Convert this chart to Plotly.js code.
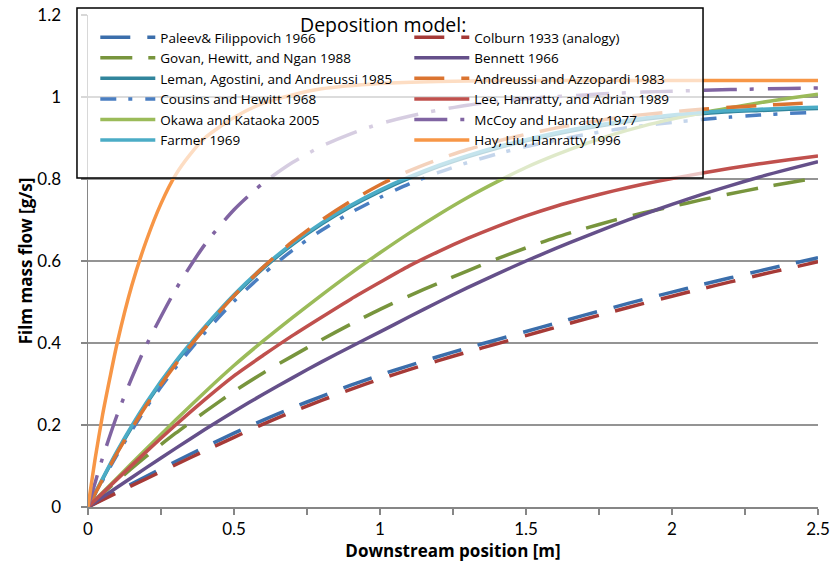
<!DOCTYPE html>
<html>
<head>
<meta charset="utf-8">
<script src="https://cdn.plot.ly/plotly-3.0.1.min.js"></script>
<style>html,body{margin:0;padding:0;background:#fff;}#chart{width:835px;height:569px;}</style>
</head>
<body>
<div id="chart"></div>
<script>
// ---- Data ----
const xStep = [0,0.1,0.2,0.3,0.4,0.5,0.6,0.7,0.8,0.9,1.0,1.1,1.2,1.3,1.4,1.5,1.6,1.7,1.8,1.9,2.0,2.1,2.2,2.3,2.4,2.5];

const yPaleev    = [0,0.038,0.075,0.111,0.146,0.18,0.212,0.242,0.27,0.297,0.322,0.345,0.367,0.388,0.408,0.428,0.448,0.468,0.487,0.506,0.524,0.542,0.559,0.576,0.592,0.608];
const yColburn   = [0,0.035,0.069,0.103,0.137,0.17,0.202,0.232,0.26,0.287,0.312,0.335,0.357,0.378,0.398,0.418,0.438,0.458,0.477,0.496,0.514,0.532,0.549,0.566,0.582,0.598];
const yGovan     = [0,0.064,0.124,0.18,0.232,0.282,0.327,0.368,0.408,0.446,0.482,0.515,0.546,0.576,0.605,0.632,0.657,0.679,0.699,0.717,0.733,0.749,0.764,0.778,0.791,0.803];
const yBennett   = [0,0.048,0.096,0.143,0.189,0.233,0.275,0.315,0.354,0.391,0.427,0.464,0.5,0.535,0.568,0.6,0.63,0.659,0.687,0.713,0.738,0.762,0.784,0.805,0.824,0.842];
const yLeman     = [0,0.134,0.252,0.352,0.437,0.515,0.582,0.64,0.69,0.733,0.77,0.802,0.83,0.854,0.875,0.893,0.909,0.923,0.935,0.945,0.953,0.959,0.964,0.967,0.97,0.972];
const yAndreussi = [0,0.132,0.248,0.348,0.436,0.515,0.585,0.647,0.70,0.746,0.786,0.82,0.848,0.872,0.892,0.909,0.924,0.937,0.948,0.957,0.964,0.97,0.975,0.979,0.983,0.986];
const yCousins   = [0,0.128,0.243,0.34,0.425,0.502,0.568,0.626,0.675,0.718,0.755,0.788,0.816,0.84,0.861,0.879,0.894,0.908,0.92,0.93,0.938,0.945,0.951,0.956,0.96,0.963];
const yLee       = [0,0.068,0.135,0.2,0.262,0.32,0.37,0.418,0.463,0.507,0.548,0.588,0.623,0.655,0.684,0.71,0.733,0.753,0.771,0.787,0.801,0.814,0.826,0.837,0.847,0.856];
const yOkawa     = [0,0.071,0.142,0.212,0.28,0.345,0.405,0.462,0.517,0.57,0.62,0.668,0.713,0.755,0.793,0.828,0.858,0.885,0.909,0.929,0.946,0.961,0.974,0.986,0.997,1.007];
const yFarmer    = [0,0.137,0.255,0.355,0.44,0.518,0.585,0.643,0.693,0.736,0.773,0.805,0.833,0.857,0.878,0.896,0.912,0.926,0.938,0.948,0.956,0.962,0.967,0.97,0.973,0.975];

const xMcCoy = [0,0.05,0.1,0.15,0.2,0.3,0.4,0.5,0.6,0.7,0.8,0.9,1.0,1.1,1.2,1.3,1.4,1.5,1.6,1.7,1.8,1.9,2.0,2.2,2.4,2.5];
const yMcCoy = [0,0.12,0.225,0.315,0.395,0.53,0.64,0.725,0.79,0.84,0.88,0.91,0.935,0.953,0.968,0.98,0.989,0.996,1.001,1.005,1.009,1.012,1.014,1.018,1.021,1.022];
const xHay   = [0,0.025,0.05,0.075,0.1,0.15,0.2,0.25,0.3,0.35,0.4,0.5,0.6,0.7,0.8,1.0,1.2,1.5,2.0,2.5];
const yHay   = [0,0.12,0.225,0.315,0.40,0.54,0.65,0.74,0.81,0.86,0.90,0.95,0.985,1.005,1.02,1.033,1.038,1.04,1.04,1.04];

const names = {
  paleev: "Paleev& Filippovich 1966",
  colburn: "Colburn 1933 (analogy)",
  govan: "Govan, Hewitt, and Ngan 1988",
  bennett: "Bennett 1966",
  leman: "Leman, Agostini, and Andreussi 1985",
  andreussi: "Andreussi and Azzopardi 1983",
  cousins: "Cousins and Hewitt 1968",
  lee: "Lee, Hanratty, and Adrian 1989",
  okawa: "Okawa and Kataoka 2005",
  mccoy: "McCoy and Hanratty 1977",
  farmer: "Farmer 1969",
  hay: "Hay, Liu, Hanratty 1996"
};
const xTitle = "Downstream position [m]";
const yTitle = "Film mass flow [g/s]";
const legendTitle = "Deposition model:";

// ---- Styles ----
const LW = 3.5;
const longDash = "30px,17px";
const mk = (x, y, name, color, dash, rank) => ({
  type: "scatter", mode: "lines", x: x, y: y, name: name, legendrank: rank,
  line: {color: color, width: LW, dash: dash, shape: "spline", smoothing: 0.7},
  hoverinfo: "skip"
});

const traces = [
  mk(xStep, yPaleev, names.paleev, "#3B6EAB", longDash, 1),
  mk(xStep, yGovan, names.govan, "#78953D", "32px,16px", 3),
  mk(xStep, yLeman, names.leman, "#31859C", "solid", 5),
  mk(xStep, yCousins, names.cousins, "#4A7EC1", "16px,12px,4px,13px", 7),
  mk(xStep, yOkawa, names.okawa, "#9BBB59", "solid", 9),
  mk(xStep, yFarmer, names.farmer, "#4BACC6", "solid", 11),
  mk(xStep, yColburn, names.colburn, "#A63A37", longDash, 2),
  mk(xStep, yBennett, names.bennett, "#65508A", "solid", 4),
  mk(xStep, yAndreussi, names.andreussi, "#DB7430", longDash, 6),
  mk(xStep, yLee, names.lee, "#C0504D", "solid", 8),
  mk(xMcCoy, yMcCoy, names.mccoy, "#8064A2", "33px,13px,4px,14px", 10),
  mk(xHay, yHay, names.hay, "#F79646", "solid", 12)
];

const FONT = "Lato, 'Open Sans', sans-serif";
const FONT2 = "'Open Sans', Lato, sans-serif";
const axisGray = "#868686";

const layout = {
  width: 835, height: 569,
  margin: {l: 88, r: 17, t: 15, b: 62, pad: 0},
  paper_bgcolor: "#ffffff", plot_bgcolor: "#ffffff",
  font: {family: FONT, color: "#000000"},
  showlegend: true,
  xaxis: {
    range: [0, 2.5], tick0: 0, dtick: 0.5, showgrid: false, zeroline: false,
    showline: true, linecolor: axisGray, linewidth: 1.5,
    ticks: "outside", ticklen: 6, tickwidth: 1.2, tickcolor: axisGray,
    minor: {dtick: 0.25, ticks: "outside", ticklen: 6, tickwidth: 1.2, tickcolor: axisGray, showgrid: false},
    tickfont: {size: 17, family: FONT},
    title: {text: xTitle, font: {size: 17, family: FONT2, weight: "bold"}, standoff: 6}
  },
  yaxis: {
    range: [0, 1.2], tick0: 0, dtick: 0.2, showgrid: true, gridcolor: "#949494", gridwidth: 1.2,
    zeroline: false, showline: true, linecolor: axisGray, linewidth: 1.5,
    ticks: "outside", ticklen: 6, tickwidth: 1.2, tickcolor: axisGray,
    ticklabelstandoff: 16,
    tickfont: {size: 17, family: FONT},
    title: {text: yTitle, font: {size: 17, family: FONT2, weight: "bold"}, standoff: 0}
  },
  legend: {
    orientation: "h",
    x: 0.010, xanchor: "left",
    y: 0.9858, yanchor: "top",
    bgcolor: "rgba(0,0,0,0)", borderwidth: 0,
    font: {size: 13.5, family: FONT2, color: "#000000"},
    itemwidth: 55,
    entrywidth: 244, entrywidthmode: "pixels",
    tracegroupgap: 0,
    itemclick: false, itemdoubleclick: false
  },
  annotations: [{
    text: legendTitle, xref: "paper", yref: "paper",
    x: 0.404, y: 0.9807, xanchor: "center", yanchor: "middle",
    showarrow: false, font: {size: 19.5, family: FONT2, color: "#000000"}
  }],
  shapes: [{
    type: "rect", xref: "paper", yref: "paper",
    x0: -0.0151, x1: 0.8425, y0: 0.6687, y1: 1.0142,
    line: {color: "#000000", width: 1.5},
    fillcolor: "rgba(255,255,255,0.68)", layer: "above"
  }]
};

Plotly.newPlot("chart", traces, layout, {displayModeBar: false, staticPlot: true});
</script>
</body>
</html>
